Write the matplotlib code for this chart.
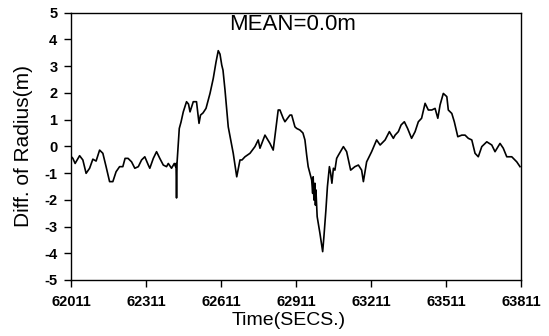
import matplotlib
matplotlib.use("Agg")
import matplotlib.pyplot as plt

# Time stamps (s) and radius difference (m)
time_secs = [
    62011, 62017, 62026, 62044, 62057, 62070, 62084, 62097, 62110, 62124,
    62137, 62150, 62164, 62177, 62190, 62204, 62217, 62226, 62238, 62252,
    62265, 62279, 62292, 62305, 62319, 62325, 62339, 62352, 62365, 62379,
    62392, 62399, 62412, 62423, 62428, 62430, 62432, 62434, 62443, 62450,
    62459, 62472, 62480, 62486, 62499, 62512, 62522, 62528, 62538, 62550,
    62566, 62579, 62590, 62599, 62606, 62613, 62618, 62626, 62639, 62659,
    62673, 62686, 62694, 62706, 62726, 62746, 62759, 62766, 62786, 62806,
    62819, 62839, 62846, 62859, 62866, 62886, 62893, 62906, 62913, 62926,
    62938, 62946, 62953, 62959, 62966, 62973, 62977, 62979, 62982, 62986,
    62988, 62990, 62995, 63006, 63017, 63022, 63030, 63036, 63040, 63044,
    63049, 63054, 63060, 63066, 63073, 63080, 63100, 63113, 63129, 63146,
    63160, 63173, 63180, 63193, 63213, 63233, 63247, 63267, 63284, 63300,
    63307, 63320, 63331, 63344, 63357, 63373, 63387, 63400, 63413, 63427,
    63440, 63454, 63467, 63478, 63487, 63500, 63514, 63520, 63534, 63544,
    63558, 63574, 63587, 63600, 63614, 63627, 63640, 63654, 63674, 63694,
    63707, 63727, 63740, 63754, 63774, 63794, 63807,
]
radius_diff = [
    -0.39, -0.45, -0.64, -0.35, -0.51, -1.01, -0.82, -0.48, -0.55, -0.14,
    -0.26, -0.76, -1.32, -1.32, -0.95, -0.76, -0.76, -0.45, -0.45, -0.58,
    -0.82, -0.76, -0.51, -0.39, -0.70, -0.82, -0.45, -0.20, -0.45, -0.70,
    -0.76, -0.64, -0.82, -0.64, -0.76, -0.64, -1.93, -0.62, 0.67, 0.91,
    1.29, 1.67, 1.58, 1.29, 1.67, 1.67, 0.86, 1.17, 1.25, 1.42,
    1.98, 2.54, 3.15, 3.58, 3.45, 3.04, 2.85, 2.11, 0.73, -0.26,
    -1.14, -0.51, -0.51, -0.39, -0.26, -0.01, 0.24, -0.07, 0.42, 0.11,
    -0.14, 1.36, 1.36, 1.05, 0.92, 1.17, 1.17, 0.73, 0.67, 0.61,
    0.50, 0.24, -0.33, -0.76, -1.01, -1.26, -1.76, -1.14, -2.01, -1.38,
    -2.20, -1.63, -2.63, -3.25, -3.94, -3.38, -2.38, -1.51, -1.14, -0.76,
    -1.01, -1.38, -0.82, -0.89, -0.45, -0.33, -0.01, -0.20, -0.89, -0.76,
    -0.70, -0.89, -1.32, -0.58, -0.20, 0.24, 0.05, 0.24, 0.55, 0.30,
    0.42, 0.55, 0.80, 0.92, 0.67, 0.30, 0.55, 0.92, 1.05, 1.61,
    1.36, 1.36, 1.42, 1.05, 1.55, 1.98, 1.86, 1.36, 1.23, 0.92,
    0.36, 0.42, 0.42, 0.30, 0.24, -0.26, -0.39, -0.01, 0.17, 0.05,
    -0.20, 0.11, -0.07, -0.39, -0.39, -0.58, -0.76,
]

x_ticks = [62011, 62311, 62611, 62911, 63211, 63511, 63811]
y_ticks = [-5, -4, -3, -2, -1, 0, 1, 2, 3, 4, 5]

plt.rcParams['font.family'] = ['Liberation Sans', 'DejaVu Sans']

fig = plt.figure(figsize=(5.49, 3.36), dpi=100)
ax = fig.add_axes([0.130, 0.1667, 0.819, 0.7955])

ax.plot(time_secs, radius_diff, color='black', linewidth=1.2)

ax.set_xlim(62011, 63811)
ax.set_ylim(-5, 5)
ax.set_xticks(x_ticks)
ax.set_xticklabels([str(t) for t in x_ticks], fontsize=10.5, fontweight='bold')
ax.set_yticks(y_ticks)
ax.set_yticklabels([str(v) for v in y_ticks], fontsize=10.5, fontweight='bold')
ax.tick_params(direction='out', length=5, width=1)
ax.tick_params(axis='x', pad=6)
ax.tick_params(axis='y', pad=5)

for sp in ax.spines.values():
    sp.set_linewidth(1.0)
    sp.set_color('black')

ax.set_xlabel('Time(SECS.)', fontsize=14)
ax.xaxis.set_label_coords(0.484, -0.118)
ax.set_ylabel('Diff. of Radius(m)', fontsize=15)
ax.yaxis.set_label_coords(-0.086, 0.5)

ax.text(0.493, 0.995, 'MEAN=0.0m', transform=ax.transAxes, fontsize=16,
        ha='center', va='top')

fig.savefig('out.png', dpi=100)
